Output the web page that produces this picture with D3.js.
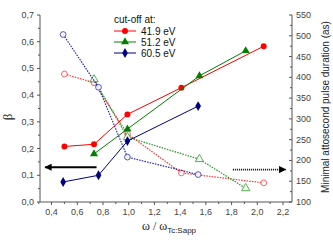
<!DOCTYPE html>
<html><head><meta charset="utf-8">
<script src="https://cdn.jsdelivr.net/npm/d3@7"></script>
<style>body{margin:0;background:#fff}svg{display:block}</style>
</head><body>
<script>
const seriesNames = ["41.9 eV","51.2 eV","60.5 eV"];
const colors = ["#ff0000","#008000","#000080"];
const dashColors = ["#ff3333","#229922","#2222aa"];
// beta (left axis)
const betaX = [[0.5,0.73,0.99,1.41,2.05],[0.73,0.99,1.55,1.91],[0.49,0.765,0.99,1.54]];
const betaY = [[0.208,0.216,0.328,0.428,0.583],[0.18,0.273,0.472,0.566],[0.075,0.10,0.228,0.359]];
// pulse duration (right axis)
const durX = [[0.5,0.73,0.99,1.41,2.05],[0.73,0.99,1.55,1.91],[0.49,0.765,0.99,1.54]];
const durY = [[408,387,264,170,146],[395,256,203,133],[503,376,208,166]];
const xTicks = [0.4,0.6,0.8,1.0,1.2,1.4,1.6,1.8,2.0,2.2];
const yTicks = [0,0.1,0.2,0.3,0.4,0.5,0.6,0.7];
const y2Ticks = [100,150,200,250,300,350,400,450,500,550];

const W=333,H=240;
const svg=d3.select("body").append("svg").attr("width",W).attr("height",H);
const x=d3.scaleLinear().domain([0.31,2.27]).range([40,292]);
const y=d3.scaleLinear().domain([0,0.7]).range([202,15]);
const y2=d3.scaleLinear().domain([100,550]).range([202,15]);
const fmt=d=>d3.format(".1f")(d).replace(".",",");
const axCol="#555", txtCol="#444";

svg.append("line").attr("x1",40).attr("x2",292).attr("y1",202).attr("y2",202).attr("stroke",axCol);
svg.append("line").attr("x1",40).attr("x2",40).attr("y1",15).attr("y2",202).attr("stroke",axCol);
svg.append("line").attr("x1",292).attr("x2",292).attr("y1",15).attr("y2",202).attr("stroke",axCol);

const gl=svg.append("g");
d3.range(0,0.701,0.05).forEach((v,i)=>{
  gl.append("line").attr("x1",40).attr("x2",i%2?38:37).attr("y1",y(v)).attr("y2",y(v)).attr("stroke",axCol);
});
gl.selectAll("text").data(yTicks).join("text").attr("x",34).attr("y",d=>y(d)+3)
  .attr("text-anchor","end").attr("font-family","Liberation Sans, Arial, sans-serif").attr("font-size",9).attr("fill",txtCol).text(fmt);
const gb=svg.append("g");
d3.range(0.3,2.28,0.1).forEach(v=>{
  const major = xTicks.some(t=>Math.abs(t-v)<1e-6);
  gb.append("line").attr("x1",x(v)).attr("x2",x(v)).attr("y1",202).attr("y2",major?205:204).attr("stroke",axCol);
});
gb.selectAll("text").data(xTicks).join("text").attr("x",d=>x(d)).attr("y",215)
  .attr("text-anchor","middle").attr("font-family","Liberation Sans, Arial, sans-serif").attr("font-size",9).attr("fill",txtCol).text(fmt);
const gr=svg.append("g");
d3.range(100,551,25).forEach((v,i)=>{
  gr.append("line").attr("x1",292).attr("x2",i%2?290:289).attr("y1",y2(v)).attr("y2",y2(v)).attr("stroke",axCol);
});
gr.selectAll("text").data(y2Ticks).join("text").attr("x",296).attr("y",d=>y2(d)+3)
  .attr("font-family","Liberation Sans, Arial, sans-serif").attr("font-size",9).attr("fill",txtCol).text(d=>d);

svg.append("text").attr("transform","translate(12,117) rotate(-90)").attr("text-anchor","middle")
  .attr("font-family","Liberation Serif, serif").attr("font-size",13).attr("fill","#222").text("β");
const xt=svg.append("text").attr("x",142).attr("y",230).attr("font-family","Liberation Serif, serif").attr("font-size",12).attr("fill","#222");
xt.append("tspan").text("ω / ω");
xt.append("tspan").attr("dy",3).attr("font-family","Liberation Sans, Arial, sans-serif").attr("font-size",8).text("Tc:Sapp");
svg.append("text").attr("transform","translate(329,107) rotate(-90)").attr("text-anchor","middle")
  .attr("font-family","Liberation Sans, Arial, sans-serif").attr("font-size",10).attr("fill","#222").text("Minimal attosecond pulse duration (as)");

seriesNames.forEach((n,i)=>{
  const pts=durX[i].map((d,j)=>[x(d),y2(durY[i][j])]);
  svg.append("path").attr("d",d3.line()(pts)).attr("fill","none").attr("stroke",dashColors[i]).attr("stroke-width",1.2).attr("stroke-dasharray","1.5,1.2");
  const sym = i===1?d3.symbolTriangle:d3.symbolCircle;
  svg.selectAll(null).data(pts).join("path").attr("transform",p=>`translate(${p[0]},${p[1]})`)
    .attr("d",d3.symbol().type(sym).size(i===1?30:26)).attr("fill","#fff").attr("stroke",dashColors[i]).attr("stroke-width",0.9).attr("opacity",0.85);
});
const symTypes=[d3.symbolCircle,d3.symbolTriangle,d3.symbolDiamond];
seriesNames.forEach((n,i)=>{
  const pts=betaX[i].map((d,j)=>[x(d),y(betaY[i][j])]);
  svg.append("path").attr("d",d3.line()(pts)).attr("fill","none").attr("stroke",colors[i]).attr("stroke-width",1);
  svg.selectAll(null).data(pts).join("path").attr("transform",p=>`translate(${p[0]},${p[1]})`)
    .attr("d",d3.symbol().type(symTypes[i]).size(28)).attr("fill",colors[i]);
});

const defs=svg.append("defs");
defs.append("marker").attr("id","ah").attr("viewBox","0 0 10 10").attr("refX",9).attr("refY",5)
  .attr("markerWidth",5.5).attr("markerHeight",4).attr("orient","auto").attr("markerUnits","strokeWidth")
  .append("path").attr("d","M0,0L10,5L0,10z").attr("fill","#000");
svg.append("line").attr("x1",x(0.75)).attr("x2",x(0.35)).attr("y1",y(0.13)).attr("y2",y(0.13))
  .attr("stroke","#000").attr("stroke-width",1.8).attr("marker-end","url(#ah)");
svg.append("line").attr("x1",x(1.81)).attr("x2",x(2.22)).attr("y1",y2(178)).attr("y2",y2(178))
  .attr("stroke","#000").attr("stroke-width",1.8).attr("stroke-dasharray","1,1").attr("marker-end","url(#ah)");

const lg=svg.append("g").attr("font-family","Liberation Sans, Arial, sans-serif").attr("font-size",10).attr("fill","#111");
lg.append("text").attr("x",114).attr("y",23).text("cut-off at:");
seriesNames.forEach((n,i)=>{
  const yy=31+i*11;
  lg.append("line").attr("x1",114).attr("x2",136).attr("y1",yy).attr("y2",yy).attr("stroke",colors[i]).attr("stroke-width",1);
  lg.append("path").attr("transform",`translate(125,${yy})`).attr("d",d3.symbol().type(symTypes[i]).size(28)).attr("fill",colors[i]);
  lg.append("text").attr("x",141).attr("y",yy+3.5).text(n);
});
</script>
</body></html>
